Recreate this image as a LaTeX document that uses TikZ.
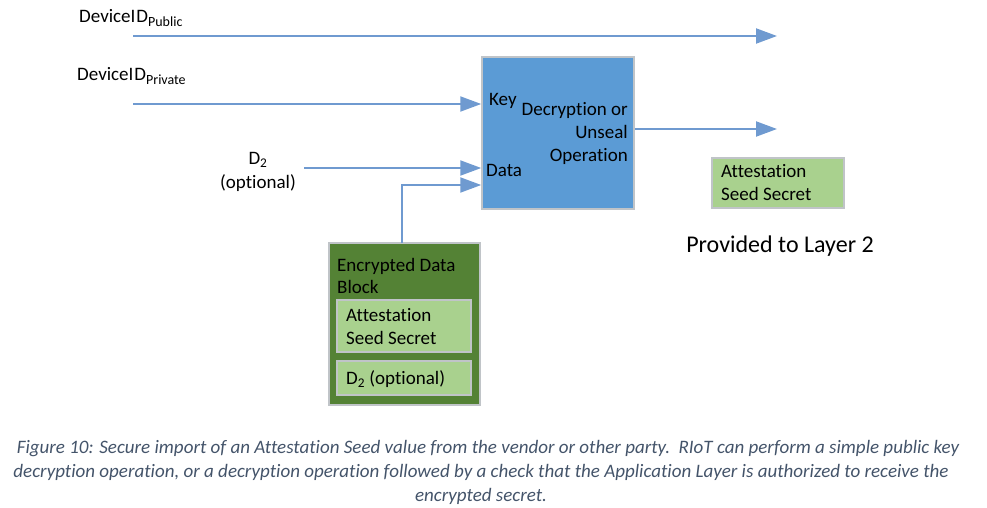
\documentclass[tikz,border=0pt]{standalone}
\usepackage{fontspec}
\setmainfont{Carlito}[Ligatures=NoCommon]
\usetikzlibrary{arrows.meta}
\definecolor{arrowc}{HTML}{6F9AD0}
\definecolor{boxblue}{HTML}{5B9BD5}
\definecolor{darkgreen}{HTML}{548235}
\definecolor{lightgreen}{HTML}{A9D18E}
\definecolor{edgegray}{HTML}{C0C4C8}
\definecolor{captionc}{HTML}{44546A}
\tikzset{
  arr/.style={draw=arrowc, line width=2pt, -{Triangle[length=21pt,width=15pt]}},
  lbl/.style={font=\fontsize{19}{23}\selectfont, inner sep=0pt, text=black},
  boxframe/.style={draw=edgegray, line width=1.5pt, inner sep=0pt},
  captxt/.style={font=\fontsize{19}{22}\selectfont\itshape, text=captionc, inner sep=0pt}
}
\begin{document}
\begin{tikzpicture}[x=1pt,y=-1pt]
\useasboundingbox (0,0) rectangle (987,508);
% main blue box
\node[boxframe, fill=boxblue, minimum width=152pt, minimum height=152pt] (box) at (558,133) {};
\node[lbl, anchor=west] (key) at (489,101) {Key};
\node[lbl, anchor=north east, align=right, font=\fontsize{19}{23}\selectfont] (op) at (628,102) {Decryption or\\Unseal\\Operation};
\node[lbl, anchor=west] (data) at (486,170) {Data};
% DeviceID public
\node[lbl, anchor=west] (pubL) at (79,18) {DeviceI\kern1pt D\textsubscript{\fontsize{14}{16}\selectfont Public}};
\coordinate (pubS) at (133,36);
\coordinate (pubE) at (777,36);
\draw[arr] (pubS) -- (pubE);
% DeviceID private
\node[lbl, anchor=west] (privL) at (77,76) {DeviceI\kern1pt D\textsubscript{\fontsize{14}{16}\selectfont Private}};
\coordinate (privS) at (133,104);
\draw[arr] (privS) -- (privS -| box.west);
% D2
\node[lbl, align=center, font=\fontsize{19}{24}\selectfont] (d2L) at (258,172) {D\textsubscript{2}\\(optional)};
\coordinate (d2S) at (304,168);
\draw[arr] (d2S) -- (d2S -| box.west);
% output
\coordinate (outE) at (777,129);
\draw[arr] (outE -| box.east) -- (outE);
% attestation output box
\node[boxframe, fill=lightgreen, minimum width=132pt, minimum height=50pt] (att) at (778,183) {};
\node[lbl, anchor=west, align=left, font=\fontsize{19}{23}\selectfont] (attT) at (721,183) {Attestation\\Seed Secret};
\node[lbl, font=\fontsize{24}{28}\selectfont] (prov) at (780,246) {Provided to Layer 2};
% encrypted data block
\node[boxframe, fill=darkgreen, minimum width=151pt, minimum height=162pt] (enc) at (404.5,324) {};
\node[lbl, anchor=west, align=left, font=\fontsize{19}{22}\selectfont] (encT) at (337,276) {Encrypted Data\\Block};
\node[boxframe, fill=lightgreen, minimum width=134pt, minimum height=52pt] (in1) at (404,326) {};
\node[lbl, anchor=west, align=left, font=\fontsize{19}{23}\selectfont] (in1T) at (346,327) {Attestation\\Seed Secret};
\node[boxframe, fill=lightgreen, minimum width=134pt, minimum height=34pt] (in2) at (404,378) {};
\node[lbl, anchor=west] (in2T) at (346,379) {D\textsubscript{2} (optional)};
% connector from encrypted block
\coordinate (encTop) at (402,243);
\coordinate (encBend) at (402,185);
\draw[arr] (encTop) -- (encBend) -- (encBend -| box.west);
% caption
\node[captxt] (cap1) at (488,449) {Figure 10: Secure import of an Attestation Seed value from the vendor or other party.\ \ RIoT can perform a simple public key};
\node[captxt] (cap2) at (481,472) {decryption operation, or a decryption operation followed by a check that the Application Layer is authorized to receive the};
\node[captxt] (cap3) at (481,496) {encrypted secret.};
\end{tikzpicture}
\end{document}
